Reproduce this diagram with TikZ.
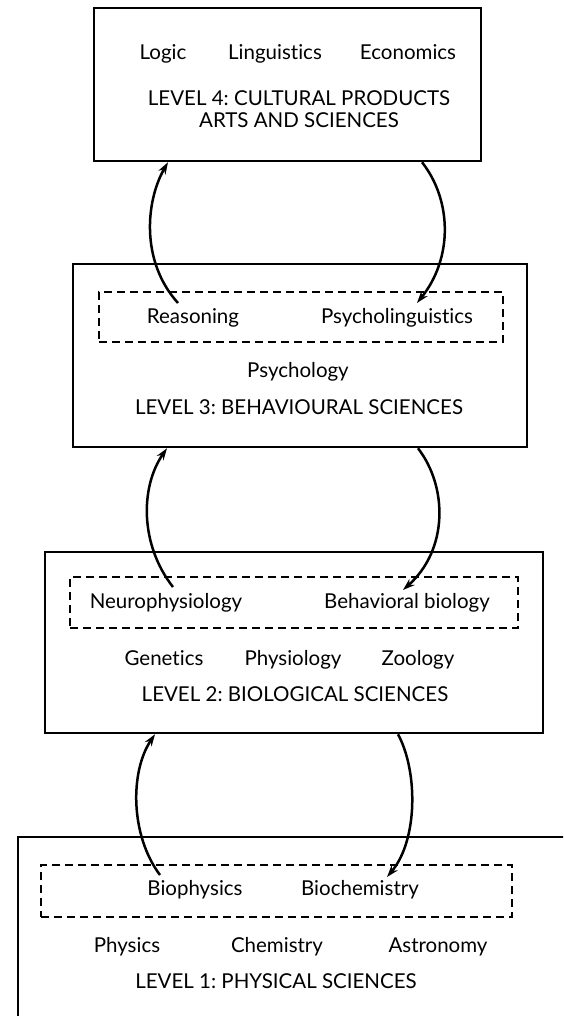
\documentclass[tikz,border=0pt]{standalone}
\usepackage{fontspec}
\setmainfont[Ligatures=NoCommon]{Lato}
\usetikzlibrary{arrows.meta}
\begin{document}
\frenchspacing
\begin{tikzpicture}[x=1pt,y=-1pt,
  level/.style={draw,line width=2.5pt,inner sep=0pt},
  group/.style={draw,line width=1.6pt,dash pattern=on 8pt off 5pt,inner sep=0pt},
  lbl/.style={font=\fontsize{20.5}{23}\selectfont,anchor=base,inner sep=0pt},
  flow/.style={line width=2.5pt,-{Stealth[length=12pt,width=8pt]}}]
\useasboundingbox (0,0) rectangle (563,1016);
\clip (0,0) rectangle (563,1016);

% level frames
\node[level,minimum width=387pt,minimum height=153pt] (box4) at (287.5,84.5) {};
\node[level,minimum width=454pt,minimum height=183pt] (box3) at (300,355.5) {};
\node[level,minimum width=498pt,minimum height=181pt] (box2) at (294,642.5) {};
\node[level,minimum width=602pt,minimum height=223pt] (box1) at (319,948.5) {};

% interdisciplinary groups
\node[group,minimum width=404pt,minimum height=50pt] (grp3) at (301,317) {};
\node[group,minimum width=448pt,minimum height=51pt] (grp2) at (294,602.5) {};
\node[group,minimum width=471pt,minimum height=52pt] (grp1) at (276.5,891) {};

% level 4
\node[lbl] (logic) at (163,60) {Logic};
\node[lbl] (ling) at (275,60) {Linguistics};
\node[lbl] (econ) at (408,60) {Economics};
\node[lbl] (l4a) at (299,106) {LEVEL 4: CULTURAL PRODUCTS};
\node[lbl] (l4b) at (299,128) {ARTS AND SCIENCES};

% level 3
\node[lbl] (reason) at (193,323) {Reasoning};
\node[lbl] (psyling) at (397,323) {Psycholinguistics};
\node[lbl] (psych) at (298,377) {Psychology};
\node[lbl] (l3) at (299,414) {LEVEL 3: BEHAVIOURAL SCIENCES};

% level 2
\node[lbl] (neuro) at (166,608) {Neurophysiology};
\node[lbl] (behbio) at (407,608) {Behavioral biology};
\node[lbl] (genet) at (164,665) {Genetics};
\node[lbl] (physio) at (293,665) {Physiology};
\node[lbl] (zool) at (418,665) {Zoology};
\node[lbl] (l2) at (295,701) {LEVEL 2: BIOLOGICAL SCIENCES};

% level 1
\node[lbl] (biophys) at (195,895) {Biophysics};
\node[lbl] (biochem) at (360,895) {Biochemistry};
\node[lbl] (phys) at (127,952) {Physics};
\node[lbl] (chem) at (277,952) {Chemistry};
\node[lbl] (astro) at (438,952) {Astronomy};
\node[lbl] (l1) at (276,988) {LEVEL 1: PHYSICAL SCIENCES};

% upward and downward influences between levels
\coordinate (a1) at (178,303);
\coordinate (a2) at (417,303);
\draw[flow] (a1) .. controls +(-38,-42) and +(-22,38) .. ([xshift=-119.5pt]box4.south);
\draw[flow] ([xshift=134.5pt]box4.south) .. controls +(30,38) and +(36,-45) .. (a2);

\coordinate (b1) at (173,587);
\coordinate (b2) at (403,590);
\draw[flow] (b1) .. controls +(-33,-42) and +(-27,39) .. ([xshift=-133pt]box3.south);
\draw[flow] ([xshift=118pt]box3.south) .. controls +(30,39) and +(45,-40) .. (b2);

\coordinate (c1) at (160,875);
\coordinate (c2) at (387,877);
\draw[flow] (c1) .. controls +(-30,-40) and +(-25,37) .. ([xshift=-139pt]box2.south);
\draw[flow] ([xshift=104pt]box2.south) .. controls +(20,37) and +(31,-37) .. (c2);
\end{tikzpicture}
\end{document}
